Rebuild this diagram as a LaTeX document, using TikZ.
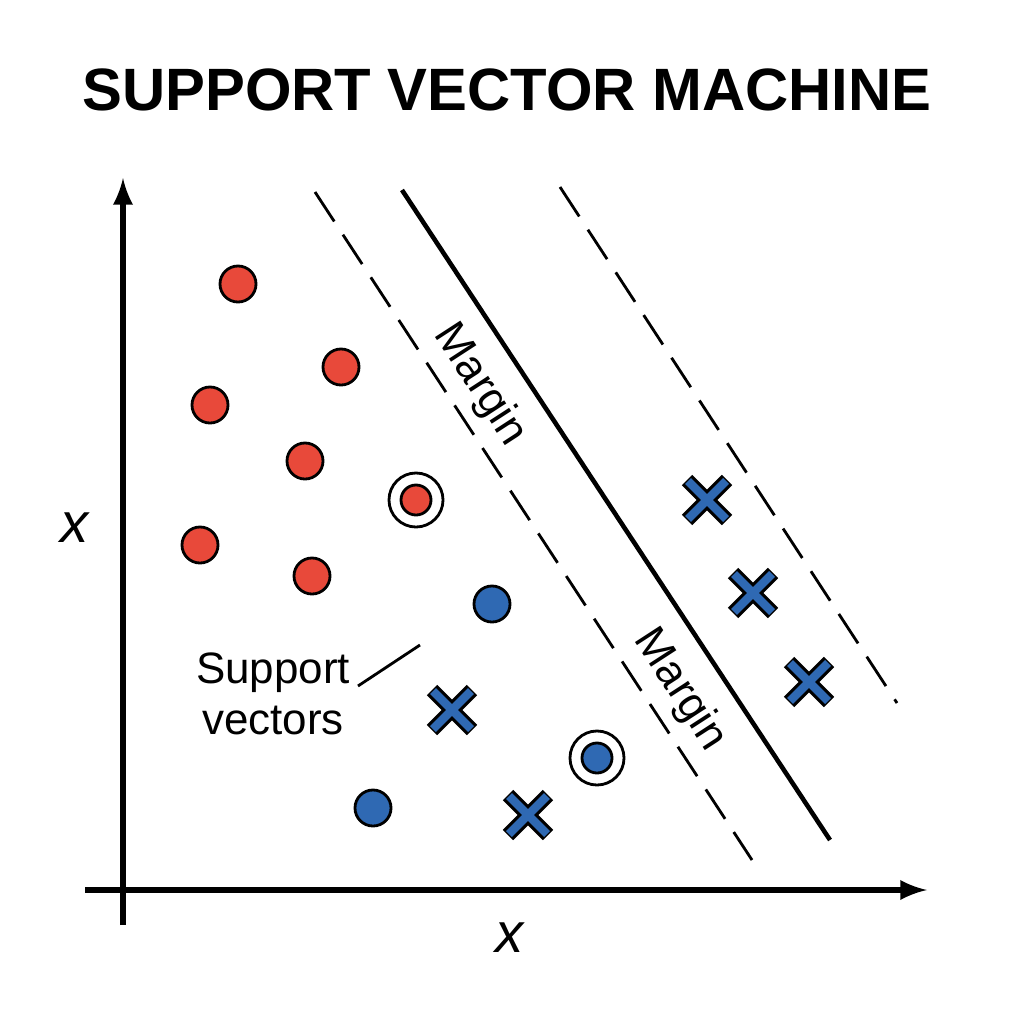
\documentclass[tikz,border=0pt]{standalone}
\usepackage{fontspec}
\setmainfont{Liberation Sans}
\definecolor{svmred}{HTML}{E8493A}
\definecolor{svmblue}{HTML}{2F69B3}
\begin{document}
\begin{tikzpicture}[x=0.01cm,y=-0.01cm,
    redpt/.style={circle, draw, thick, fill=svmred, minimum size=0.36cm, inner sep=0pt},
    bluept/.style={circle, draw, thick, fill=svmblue, minimum size=0.36cm, inner sep=0pt},
    ring/.style={circle, draw, thick, minimum size=0.54cm, inner sep=0pt},
    margin/.style={font=\fontsize{12.5}{12.5}\selectfont, rotate=-57, inner sep=1pt},
    axislabel/.style={font=\fontsize{16}{16}\selectfont\itshape}]
    \useasboundingbox (0,0) rectangle (1024,1024);
    % Title
    \node[font=\fontsize{17}{17}\selectfont\bfseries] (title) at (507,90) {SUPPORT VECTOR MACHINE};
    % Axes
    \coordinate (ybot) at (123,925);
    \coordinate (ytop) at (123,178);
    \coordinate (xleft) at (85,890);
    \coordinate (xright) at (927,890);
    \draw[line width=1.6pt, -latex] (ybot) -- (ytop);
    \draw[line width=1.6pt, -latex] (xleft) -- (xright);
    \node[axislabel] (ylab) at (75,528) {x};
    \node[axislabel] (xlab) at (510,938) {x};
    % Hyperplane and margins
    \coordinate (d1a) at (315,192);
    \coordinate (d1b) at (752,860);
    \coordinate (ha) at (402,190);
    \coordinate (hb) at (830,840);
    \coordinate (d2a) at (560,187);
    \coordinate (d2b) at (897,703);
    \draw[thick, dash pattern=on 10pt off 4.5pt] (d1a) -- (d1b);
    \draw[line width=1.3pt] (ha) -- (hb);
    \draw[thick, dash pattern=on 10pt off 4.5pt] (d2a) -- (d2b);
    \node[margin] (m1) at (480,385) {Margin};
    \node[margin] (m2) at (680,690) {Margin};
    % Points
    \foreach \px/\py [count=\i] in {238/284, 341/367, 210/405, 305/461, 200/545, 312/576}
        \node[redpt] (r\i) at (\px,\py) {};
    \node[ring] (sv1) at (416,500) {};
    \node[redpt, minimum size=0.3cm] (r7) at (416,500) {};
    \node[bluept] (b1) at (492,604) {};
    \node[bluept] (b2) at (373,808) {};
    \node[ring] (sv2) at (597,758) {};
    \node[bluept, minimum size=0.3cm] (b3) at (597,758) {};
    \foreach \px/\py [count=\i] in {452/710, 528/815, 707/500, 753/593, 809/682} {
        \draw[line width=4.2pt] (\px-20,\py-20) -- (\px+20,\py+20) (\px-20,\py+20) -- (\px+20,\py-20);
        \draw[line width=2.4pt, svmblue] (\px-19,\py-19) -- (\px+19,\py+19) (\px-19,\py+19) -- (\px+19,\py-19);
    }
    % Support vectors label
    \node[align=center, font=\fontsize{12.5}{14.5}\selectfont] (svlab) at (273,694) {Support\\vectors};
    \coordinate (svtip) at (420,645);
    \draw[thick] (358,686) -- (svtip);
\end{tikzpicture}
\end{document}
